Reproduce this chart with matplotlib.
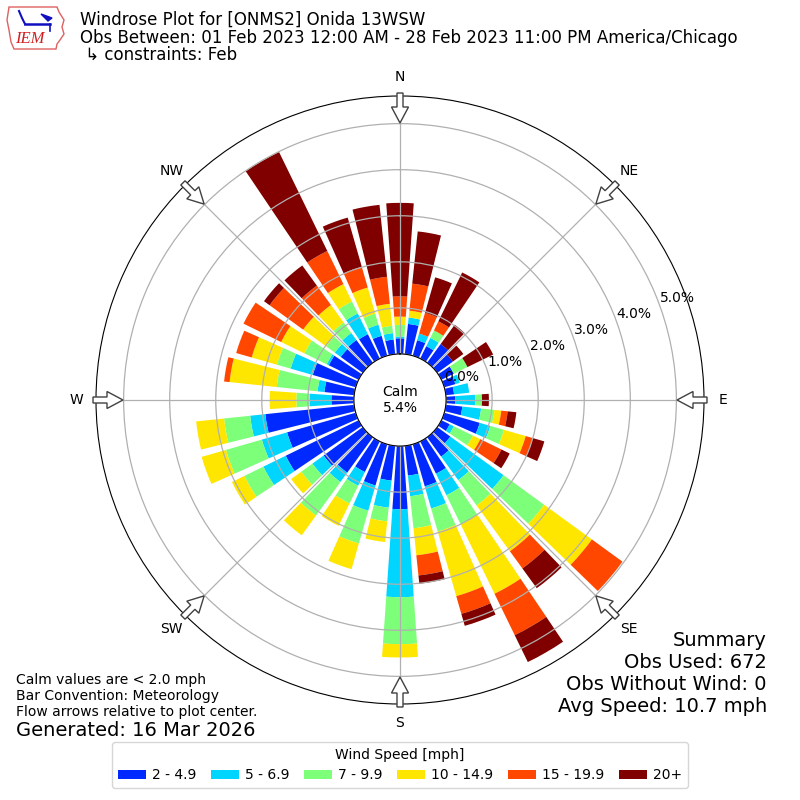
import numpy as np
import matplotlib
matplotlib.use("Agg")
import matplotlib.pyplot as plt
from matplotlib.patches import Patch, FancyArrow, Polygon

# ---------------- data (percent of observations) ----------------
directions = list(range(0, 360, 10))
speed_labels = ["2 - 4.9", "5 - 6.9", "7 - 9.9", "10 - 14.9", "15 - 19.9", "20+"]

pct_2_5 = [0.34, 0.66, 0.35, 0.30, 0.50, 0.42, 0.30, 0.25, 0.18, 0.20,
           0.36, 0.80, 0.20, 0.35, 0.52, 0.78, 0.95, 0.65, 1.37, 0.76,
           0.93, 0.74, 0.95, 1.05, 1.76, 1.55, 1.94, 0.49, 0.65, 0.97,
           0.72, 0.59, 0.61, 0.59, 0.45, 0.32]
pct_5_7 = [0.04, 0.14, 0.15, 0.20, 0.00, 0.00, 0.00, 0.10, 0.33, 0.43,
           0.41, 0.24, 0.10, 1.43, 0.63, 0.52, 0.50, 0.45, 1.91, 0.59,
           0.57, 0.33, 0.25, 0.30, 0.54, 0.57, 0.33, 0.47, 0.15, 0.50,
           0.05, 0.16, 0.19, 0.50, 0.25, 0.14]
pct_7_10 = [0.25, 0.00, 0.00, 0.18, 0.00, 0.00, 0.33, 0.00, 0.00, 0.15,
            0.29, 0.31, 0.46, 1.09, 0.68, 0.70, 0.52, 0.70, 1.02, 0.30,
            0.74, 0.43, 0.90, 0.30, 0.46, 0.81, 0.57, 0.29, 0.89, 0.31,
            0.54, 0.23, 0.28, 0.29, 0.25, 0.16]
pct_10_15 = [0.18, 0.15, 0.00, 0.00, 0.00, 0.00, 0.00, 0.00, 0.00, 0.00,
             0.15, 0.49, 0.18, 1.28, 1.23, 1.68, 1.46, 0.59, 0.29, 0.45,
             0.58, 0.54, 0.53, 0.27, 0.30, 0.55, 0.61, 0.58, 1.03, 0.57,
             0.56, 0.62, 0.47, 0.42, 0.59, 0.48]
pct_15_20 = [0.44, 0.59, 0.47, 0.22, 0.00, 0.00, 0.00, 0.00, 0.00, 0.00,
             0.14, 0.16, 0.51, 0.82, 0.46, 1.00, 0.40, 0.44, 0.00, 0.00,
             0.00, 0.00, 0.00, 0.00, 0.00, 0.00, 0.00, 0.00, 0.12, 0.35,
             0.91, 0.90, 0.52, 0.80, 0.47, 0.59]
pct_20p = [2.03, 1.14, 0.80, 1.18, 0.52, 0.28, 0.62, 0.00, 0.00, 0.15,
           0.19, 0.26, 0.20, 0.00, 0.53, 0.65, 0.27, 0.18, 0.00, 0.00,
           0.00, 0.00, 0.00, 0.00, 0.00, 0.00, 0.00, 0.00, 0.00, 0.00,
           0.00, 0.15, 0.54, 2.39, 1.11, 1.57]

calm_pct = 5.4
ring_values = [0, 1, 2, 3, 4, 5]
compass = ["N", "NE", "E", "SE", "S", "SW", "W", "NW"]
compass_deg = [0, 45, 90, 135, 180, 225, 270, 315]

title_lines = ["Windrose Plot for [ONMS2] Onida 13WSW",
               "Obs Between: 01 Feb 2023 12:00 AM - 28 Feb 2023 11:00 PM America/Chicago",
               " \u21b3 constraints: Feb"]
left_notes = ["Calm values are < 2.0 mph", "Bar Convention: Meteorology",
              "Flow arrows relative to plot center."]
generated = "Generated: 16 Mar 2026"
summary = ["Summary", "Obs Used: 672", "Obs Without Wind: 0", "Avg Speed: 10.7 mph"]

# ---------------- figure ----------------
fig = plt.figure(figsize=(8, 8), dpi=100)
ax = fig.add_axes([0.12, 0.12, 0.76, 0.76], projection="polar")
ax.set_theta_zero_location("N")
ax.set_theta_direction(-1)

cmap = plt.get_cmap("jet")
colors = [cmap(i / 6.0) for i in range(1, 7)]
series = [pct_2_5, pct_5_7, pct_7_10, pct_10_15, pct_15_20, pct_20p]

theta = np.deg2rad(directions)
bottom = np.zeros(len(directions))
for vals, col in zip(series, colors):
    v = np.array(vals)
    ax.bar(theta, v, width=np.deg2rad(8.0), bottom=bottom, color=col,
           edgecolor="none", linewidth=0, align="center")
    bottom = bottom + v

ax.set_ylim(0, 5.6)
ax.set_rorigin(-1.0)
ax.set_yticks(ring_values)
ax.set_yticklabels([])
ax.set_xticks(np.deg2rad(compass_deg))
ax.set_xticklabels([])
ax.grid(True, color="#b0b0b0", linewidth=0.9)

# radial labels
for v in ring_values:
    ax.text(np.deg2rad(69.8), v + 0.42, f"{v:.1f}%", ha="center", va="center",
            fontsize=10, zorder=10)

# compass labels
for lab, d in zip(compass, compass_deg):
    ax.text(np.deg2rad(d), 323 / 46.0 - 1.0, lab, ha="center", va="center",
            fontsize=10)

# calm text
ax.text(0, -1.0, "Calm\n%.1f%%" % calm_pct, ha="center", va="center", fontsize=10,
        transform=ax.transData, zorder=10)

# flow arrows at compass points
for d in compass_deg:
    t = np.deg2rad(d)
    ux, uy = np.sin(t), np.cos(t)
    tail_x = 0.5 + 307 / 800 * ux
    tail_y = 0.5 + 307 / 800 * uy
    arr = FancyArrow(tail_x, tail_y, -30 / 800 * ux, -30 / 800 * uy,
                     width=6 / 800, head_width=17 / 800, head_length=16 / 800,
                     length_includes_head=True, transform=fig.transFigure,
                     facecolor="white", edgecolor="#404040", linewidth=1.0,
                     zorder=5)
    fig.add_artist(arr)

# titles
for i, (line, ypx) in enumerate(zip(title_lines, [20, 38, 55])):
    fig.text(80 / 800, 1 - ypx / 800, line, fontsize=12, ha="left", va="center")

# IEM logo (simple)
def fp(x, y):
    return (x / 800, 1 - y / 800)

iowa = [(9, 7), (57, 7), (59, 12), (64, 20), (62, 27), (64, 34), (60, 40),
        (57, 44), (56, 49), (14, 49), (11, 42), (9, 30), (7, 20)]
fig.add_artist(Polygon([fp(*p) for p in iowa], closed=True, fill=False,
                       edgecolor="#e06060", linewidth=1.0,
                       transform=fig.transFigure))
fig.add_artist(plt.Line2D([fp(25, 24)[0], fp(50, 24)[0]], [fp(25, 24)[1], fp(50, 24)[1]],
                          color="#1010c0", linewidth=1.8, transform=fig.transFigure))
fig.add_artist(plt.Line2D([fp(19, 11)[0], fp(22, 18)[0], fp(25, 24)[0]],
                          [fp(19, 11)[1], fp(22, 18)[1], fp(25, 24)[1]],
                          color="#1010c0", linewidth=1.5, transform=fig.transFigure))
fig.add_artist(Polygon([fp(41, 14), fp(52, 18), fp(48, 21)], closed=True,
                       facecolor="#1010c0", edgecolor="#1010c0",
                       transform=fig.transFigure))
fig.add_artist(plt.Line2D([fp(50, 24)[0], fp(50, 31)[0]], [fp(50, 24)[1], fp(50, 31)[1]],
                          color="#1010c0", linewidth=1.2, transform=fig.transFigure))
fig.text(30 / 800, 1 - 39 / 800, "IEM", color="#d02020", fontsize=12,
         family="Liberation Serif", style="italic", ha="center", va="center")

# left notes
for line, ypx in zip(left_notes, [680, 696, 712]):
    fig.text(16 / 800, 1 - ypx / 800, line, fontsize=10, ha="left", va="center")
fig.text(16 / 800, 1 - 730 / 800, generated, fontsize=14, ha="left", va="center")

# summary
for line, ypx in zip(summary, [640, 662, 684, 706]):
    fig.text(767 / 800, 1 - ypx / 800, line, fontsize=14, ha="right", va="center")

# legend
handles = [Patch(facecolor=c, edgecolor="none") for c in colors]
leg = fig.legend(handles, speed_labels, loc="center", ncol=6,
                 bbox_to_anchor=(0.5, 1 - 765 / 800), fontsize=10,
                 title="Wind Speed [mph]", title_fontsize=10,
                 handletextpad=0.45, columnspacing=1.05, frameon=True)

fig.savefig("out.png", dpi=100)
